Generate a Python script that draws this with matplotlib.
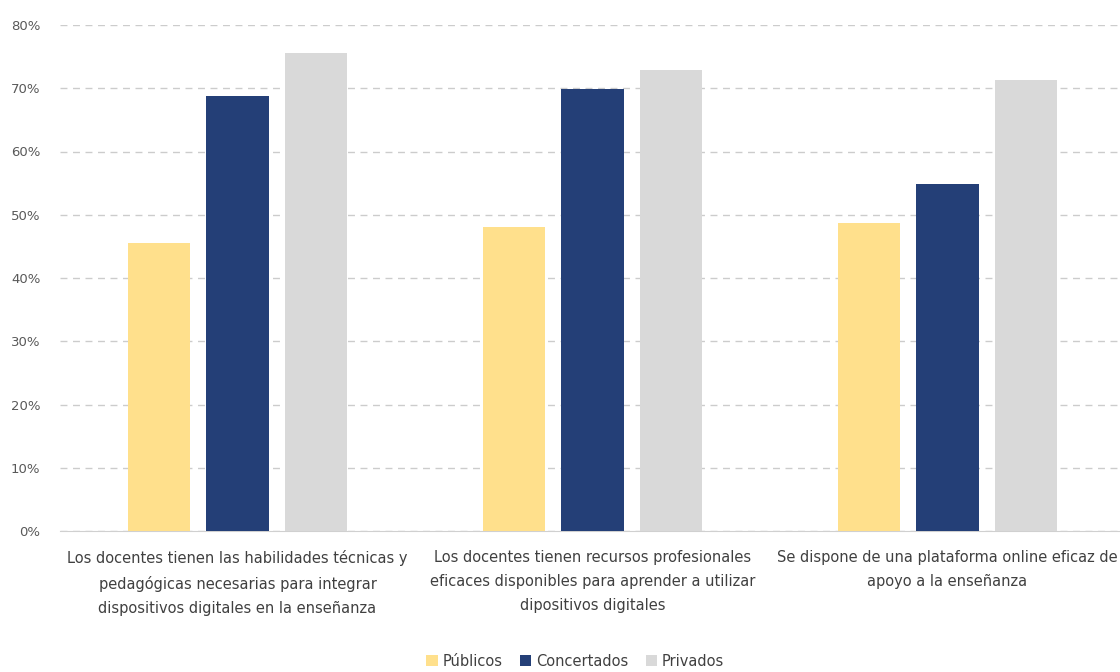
import matplotlib
matplotlib.use("Agg")
from matplotlib import pyplot as plt
from matplotlib.ticker import PercentFormatter
import numpy as np

categorias = [
    "Los docentes tienen las habilidades técnicas y\npedagógicas necesarias para integrar\ndispositivos digitales en la enseñanza",
    "Los docentes tienen recursos profesionales\neficaces disponibles para aprender a utilizar\ndipositivos digitales",
    "Se dispone de una plataforma online eficaz de\napoyo a la enseñanza",
]
publicos = [45.5, 48.1, 48.7]
concertados = [68.8, 69.9, 54.9]
privados = [75.6, 72.9, 71.3]
series = ["Públicos", "Concertados", "Privados"]
colores = ["#FFE08C", "#243F77", "#D9D9D9"]

plt.rcParams['font.family'] = ['Liberation Sans Narrow', 'DejaVu Sans']

fig = plt.figure(figsize=(11.2, 6.72), dpi=100)
ax = fig.add_axes([60 / 1120, 1 - 531 / 672, 1065 / 1120, 506 / 672])

x = np.arange(len(categorias))
ancho = 0.175
paso = 0.222
for i, (vals, nombre, c) in enumerate(zip([publicos, concertados, privados], series, colores)):
    ax.bar(x + (i - 1) * paso, vals, ancho, color=c, label=nombre, zorder=3)

ax.set_xlim(-0.5, 2.5)
ax.set_ylim(0, 80)
ax.set_yticks(range(0, 81, 10))
ax.yaxis.set_major_formatter(PercentFormatter(decimals=0))
ax.grid(axis='y', color='#CCCCCC', linestyle=(0, (5, 4)), linewidth=1, zorder=0)
ax.set_xticks(x)
ax.set_xticklabels(categorias, fontsize=10.5, color='#404040', linespacing=1.75)
ax.tick_params(axis='y', labelsize=9.5, colors='#595959', length=0, pad=14)
ax.tick_params(axis='x', length=0, pad=14)
for s in ['top', 'right', 'left']:
    ax.spines[s].set_visible(False)
ax.spines['bottom'].set_color('#D0D0D0')
ax.spines['bottom'].set_zorder(2)

fig.legend(loc='center', bbox_to_anchor=(575 / 1120, 1 - 661 / 672), ncol=3, frameon=False,
           fontsize=10.5, handlelength=0.8, handleheight=0.8, handletextpad=0.3,
           columnspacing=1.2, labelcolor='#404040')

fig.savefig("out.png", dpi=100)
